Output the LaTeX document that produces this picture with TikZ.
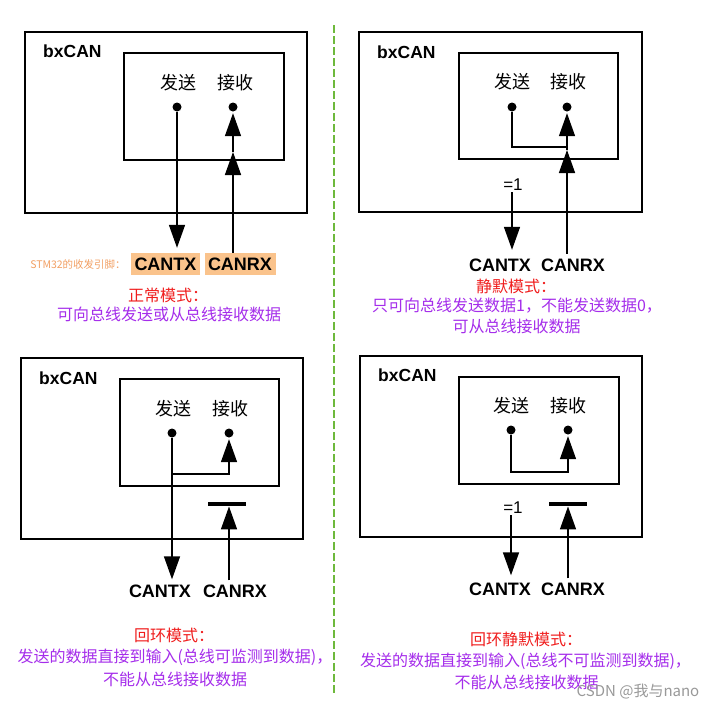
\documentclass[tikz,border=0pt]{standalone}
\usepackage{fontspec}
\usetikzlibrary{arrows.meta,calc}
\newfontfamily\hel{Liberation Sans}
\newfontfamily\cjk{Noto Sans CJK SC}
\definecolor{modered}{RGB}{240,30,30}
\definecolor{modepurple}{RGB}{165,45,235}
\definecolor{pinbg}{RGB}{250,195,140}
\definecolor{pinfg}{RGB}{242,160,100}
\definecolor{sepgreen}{RGB}{110,185,60}
\begin{document}
\begin{tikzpicture}[x=1pt,y=-1pt,
 outerbox/.style={draw,line width=2.8pt,inner sep=0pt},
 innerbox/.style={draw,line width=1.2pt,inner sep=0pt},
 title/.style={font=\hel\bfseries\fontsize{17.5}{20}\selectfont,anchor=west,inner sep=0pt},
 cjklab/.style={font=\cjk\fontsize{18}{20}\selectfont,inner sep=0pt},
 pin/.style={font=\hel\bfseries\fontsize{18}{20}\selectfont,minimum height=22pt,inner xsep=3.5pt,inner ysep=0pt},
 pinfill/.style={pin,fill=pinbg},
 eqlab/.style={font=\hel\fontsize{17}{20}\selectfont,inner sep=1pt},
 pindot/.style={circle,fill,inner sep=0pt,minimum size=9pt},
 flow/.style={line width=1.5pt,-{Triangle[length=23pt,width=16pt]}},
 wire/.style={line width=1.5pt},
 barnode/.style={fill,inner sep=0pt,minimum width=38pt,minimum height=4.5pt},
 modetitle/.style={font=\cjk\fontsize{16}{18}\selectfont,text=modered,inner sep=0pt},
 modetext/.style={font=\cjk\fontsize{16}{18}\selectfont,text=modepurple,inner sep=0pt}]
\useasboundingbox[fill=white] (0,0) rectangle (717,710);

% separator
\coordinate (sepA) at (334,25);
\coordinate (sepB) at (334,693);
\draw[sepgreen,line width=2.5pt,dash pattern=on 8pt off 3pt] (sepA) -- (sepB);

% ---------- panel 1: normal ----------
\node[outerbox,minimum width=282pt,minimum height=181pt] (o1) at (166,122.5) {};
\node[innerbox,minimum width=160pt,minimum height=107pt] (i1) at (204,106.5) {};
\node[title] (bx1) at (43,51) {bxCAN};
\node[cjklab] (s1) at (178,83) {发送};
\node[cjklab] (rc1) at (235,83) {接收};
\node[pindot] (t1) at (177,107) {};
\node[pindot] (r1) at (233,107) {};
\node[pinfill] (ctx1) at (165.5,264) {CANTX};
\node[pinfill] (crx1) at (240,264) {CANRX};
\node[font=\cjk\fontsize{10.5}{12}\selectfont,text=pinfg,inner sep=0pt] (stm) at (78,264) {STM32的收发引脚：};
\coordinate (m1) at (233,152);
\draw[flow,shorten >=5pt] (t1) -- (t1 |- ctx1.north);
\draw[flow] (r1 |- crx1.north) -- (m1);
\draw[flow,shorten >=1.5pt] (m1) -- (r1);
\node[modetitle] (mt1) at (168,295) {正常模式：};
\node[modetext] (ml1a) at (169,314) {可向总线发送或从总线接收数据};

% ---------- panel 2: silent ----------
\node[outerbox,minimum width=283pt,minimum height=180pt] (o2) at (500.5,122) {};
\node[innerbox,minimum width=159pt,minimum height=106pt] (i2) at (538.5,106) {};
\node[title] (bx2) at (377,52.5) {bxCAN};
\node[cjklab] (s2) at (512,82) {发送};
\node[cjklab] (rc2) at (568,82) {接收};
\node[pindot] (t2) at (512,107) {};
\node[pindot] (r2) at (567,107) {};
\node[eqlab] (eq2) at (513,185) {=1};
\node[pin] (ctx2) at (500,265) {CANTX};
\node[pin] (crx2) at (573,265) {CANRX};
\coordinate (k2) at (567,147);
\coordinate (m2) at (567,150);
\draw[flow,shorten >=1.5pt] (t2) |- (k2) -- (r2);
\draw[flow] (r2 |- crx2.north) -- (m2);
\draw[wire] (m2) -- (k2);
\draw[flow,shorten >=4pt] (t2 |- eq2.south) -- (t2 |- ctx2.north);
\node[modetitle] (mt2) at (516,286) {静默模式：};
\node[modetext] (ml2a) at (517,306) {只可向总线发送数据1，不能发送数据0，};
\node[modetext] (ml2b) at (516.5,326) {可从总线接收数据};

% ---------- panel 3: loop back ----------
\node[outerbox,minimum width=282pt,minimum height=181pt] (o3) at (162,448.5) {};
\node[innerbox,minimum width=159pt,minimum height=107pt] (i3) at (199.5,432.5) {};
\node[title] (bx3) at (39,378.5) {bxCAN};
\node[cjklab] (s3) at (173,409) {发送};
\node[cjklab] (rc3) at (230,409) {接收};
\node[pindot] (t3) at (172,433) {};
\node[pindot] (r3) at (229,433) {};
\node[barnode] (b3) at (227,504) {};
\node[pin] (ctx3) at (160,591.5) {CANTX};
\node[pin] (crx3) at (235,591.5) {CANRX};
\coordinate (j3) at (172,474);
\draw[flow,shorten >=1pt] (t3) -- (t3 |- ctx3.north);
\draw[flow,shorten >=1.5pt] (j3) -| (r3);
\draw[flow] (r3 |- crx3.north) -- (r3 |- b3.south);
\node[modetitle] (mt3) at (174,635) {回环模式：};
\node[modetext] (ml3a) at (175,657) {发送的数据直接到输入(总线可监测到数据)，};
\node[modetext] (ml3b) at (175,679) {不能从总线接收数据};

% ---------- panel 4: loop back silent ----------
\node[outerbox,minimum width=282pt,minimum height=181pt] (o4) at (501,446.5) {};
\node[innerbox,minimum width=160pt,minimum height=107pt] (i4) at (539,430.5) {};
\node[title] (bx4) at (378,375.5) {bxCAN};
\node[cjklab] (s4) at (511,406) {发送};
\node[cjklab] (rc4) at (568,406) {接收};
\node[pindot] (t4) at (511,430) {};
\node[pindot] (r4) at (568,430) {};
\node[eqlab] (eq4) at (513,508) {=1};
\node[barnode] (b4) at (567.5,504) {};
\node[pin] (ctx4) at (500,589.5) {CANTX};
\node[pin] (crx4) at (573,589.5) {CANRX};
\coordinate (k4) at (568,472);
\draw[flow,shorten >=1.5pt] (t4) |- (k4) -- (r4);
\draw[flow,shorten >=3pt] (t4 |- eq4.south) -- (t4 |- ctx4.north);
\draw[flow] (r4 |- crx4.north) -- (r4 |- b4.south);
\node[modetitle] (mt4) at (526,639) {回环静默模式：};
\node[modetext] (ml4a) at (525.5,661) {发送的数据直接到输入(总线不可监测到数据)，};
\node[modetext] (ml4b) at (526.5,682) {不能从总线接收数据};

% watermark
\node[font=\cjk\fontsize{15}{17}\selectfont,text=black!40,inner sep=0pt] (wm) at (638,692) {CSDN @我与nano};
\end{tikzpicture}
\end{document}
